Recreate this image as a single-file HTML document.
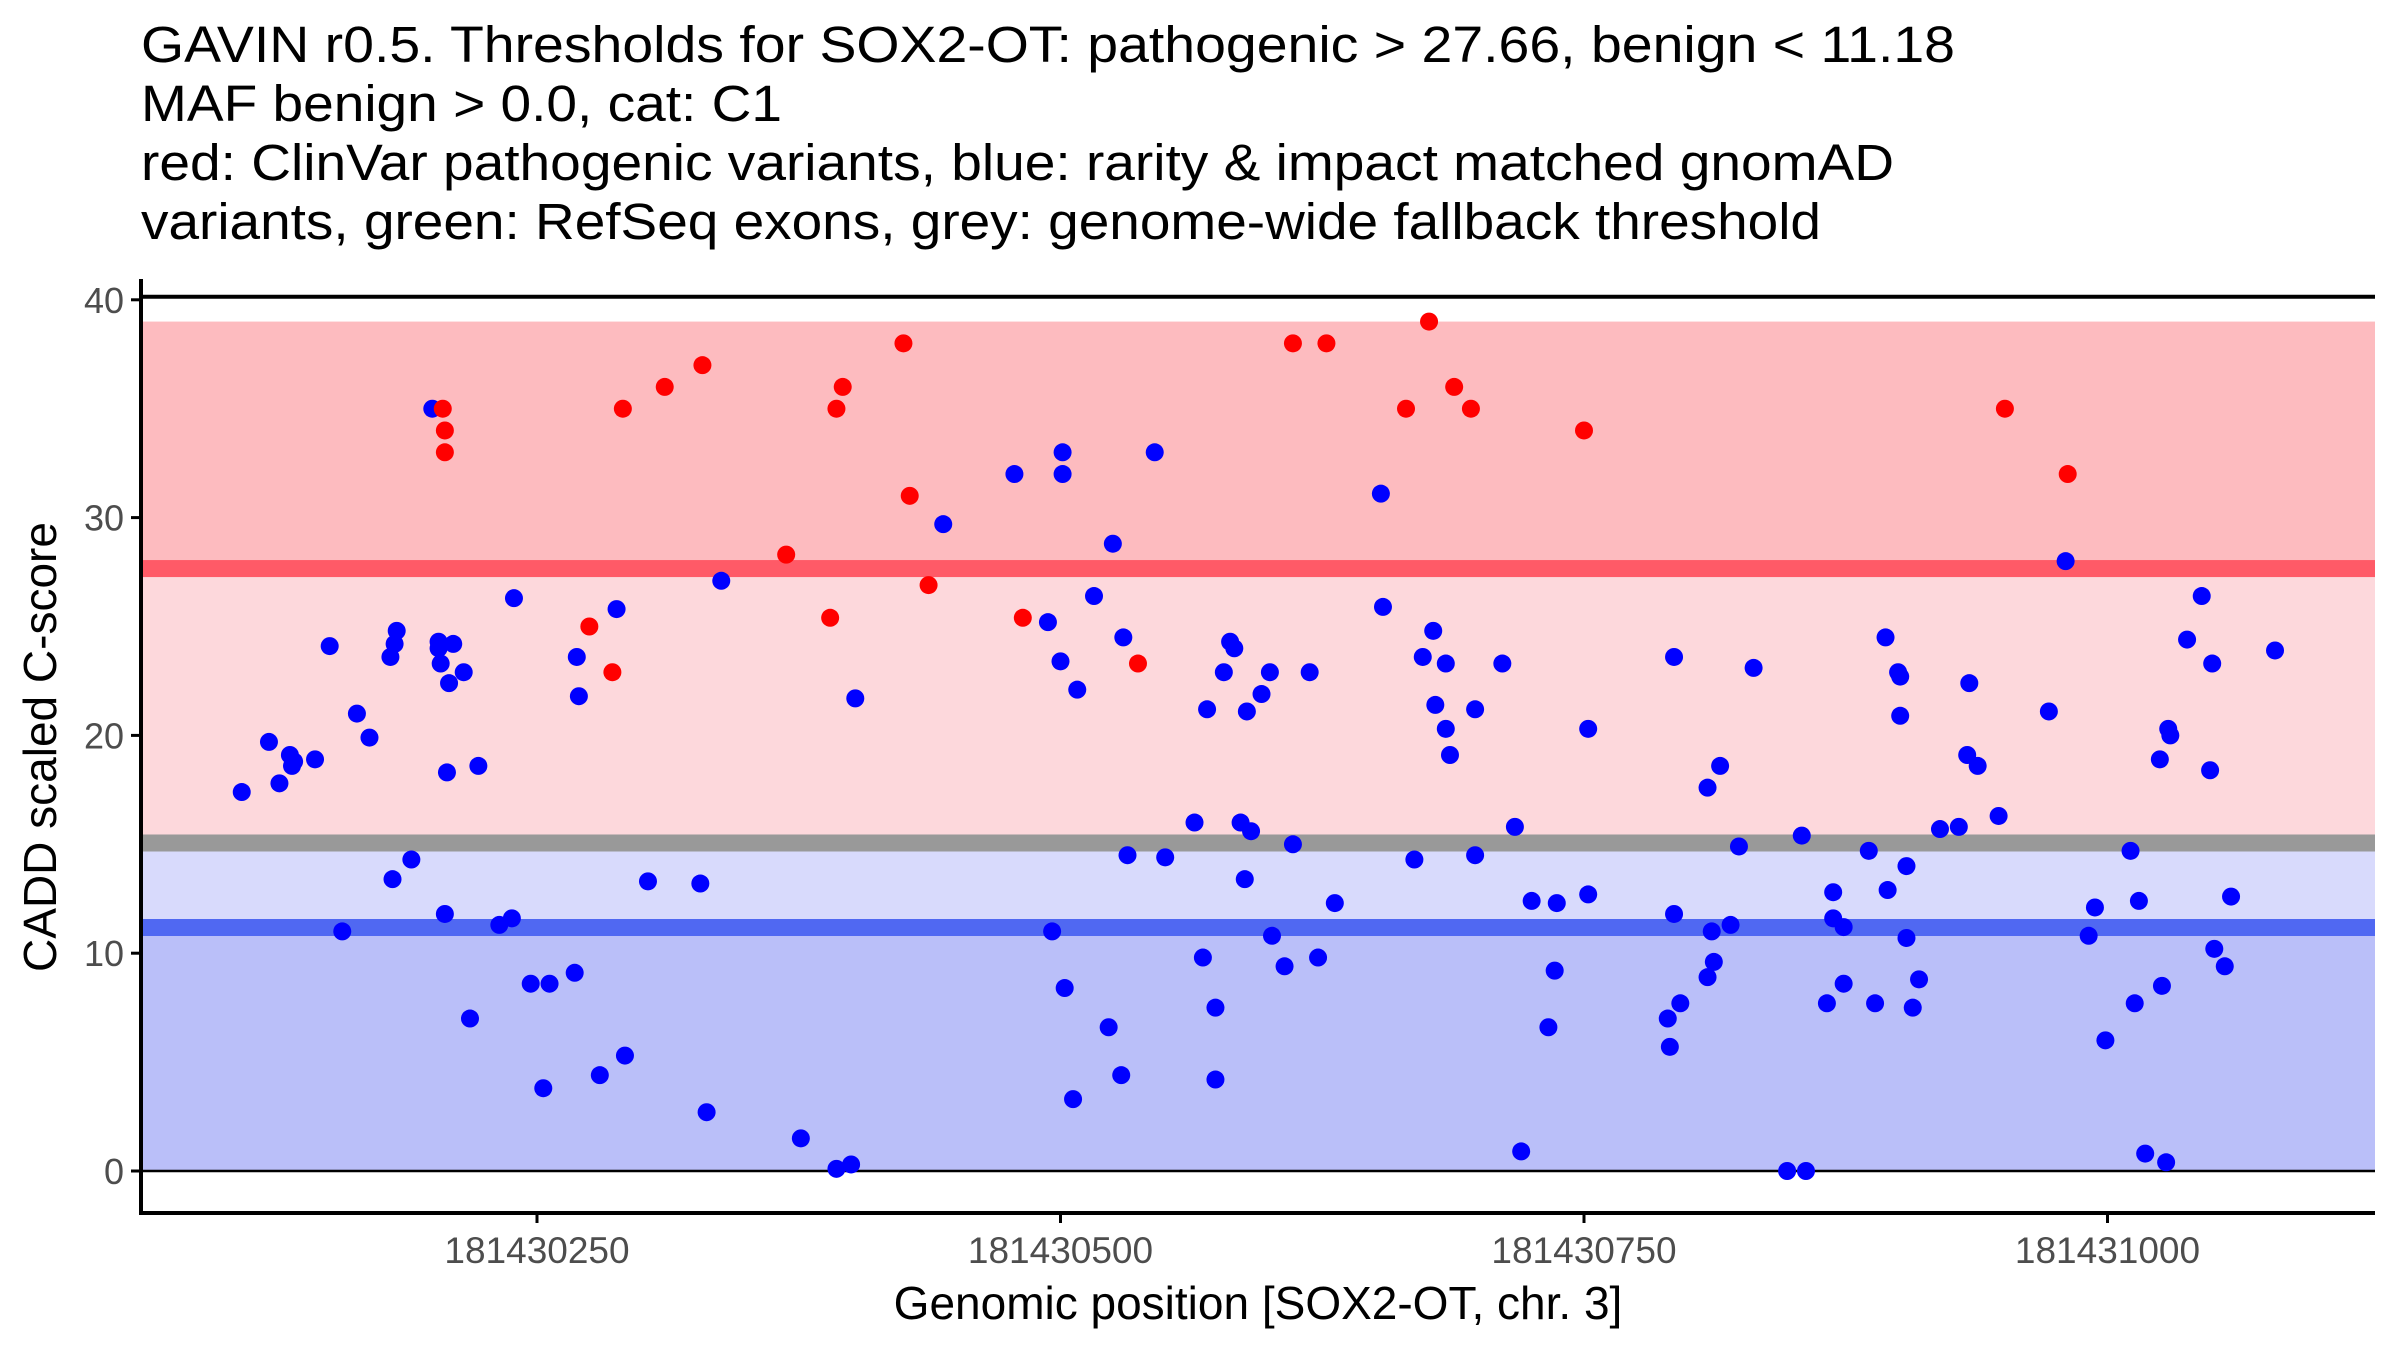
<!DOCTYPE html>
<html><head><meta charset="utf-8"><style>
html,body{margin:0;padding:0;background:#fff;}
svg{display:block;font-family:"Liberation Sans",Arial,sans-serif;}
</style></head><body>
<svg id="chart" width="2400" height="1350" viewBox="0 0 2400 1350" xmlns="http://www.w3.org/2000/svg">
<g font-size="48" fill="#000">
<text x="141" y="62" textLength="1814" lengthAdjust="spacingAndGlyphs" font-size="51">GAVIN r0.5. Thresholds for SOX2-OT: pathogenic &gt; 27.66, benign &lt; 11.18</text>
<text x="141" y="121" textLength="641" lengthAdjust="spacingAndGlyphs" font-size="51">MAF benign &gt; 0.0, cat: C1</text>
<text x="141" y="180" textLength="1753" lengthAdjust="spacingAndGlyphs" font-size="51">red: ClinVar pathogenic variants, blue: rarity &amp; impact matched gnomAD</text>
<text x="141" y="239" textLength="1680" lengthAdjust="spacingAndGlyphs" font-size="51">variants, green: RefSeq exons, grey: genome-wide fallback threshold</text>
</g>
<g id="bands"></g>
<g id="axes"></g>
<g id="points"></g>
<text x="1258" y="1319" font-size="46" text-anchor="middle">Genomic position [SOX2-OT, chr. 3]</text>
<text transform="translate(56,747) rotate(-90)" font-size="46" text-anchor="middle">CADD scaled C-score</text>
</svg>
<script>
const BASE = 181430000;
const xTicks = [250, 500, 750, 1000];
const yTicks = [0, 10, 20, 30, 40];
const pathoThreshold = 27.66;
const benignThreshold = 11.18;
const fallbackThreshold = 15.06;
const maxScore = 39;
const benignPos = [109,122,127,132,133,134,144,151,157,164,170,180,181,182,183,190,200,203,203,204,206,207,208,210,215,218,222,232,238,239,247,253,256,268,269,270,280,288,292,303,328,331,338,376,393,400,402,444,478,494,496,500,501,501,502,506,508,516,523,525,529,530,532,545,550,564,568,570,574,574,578,581,583,586,588,589,591,596,600,601,607,611,619,623,631,653,654,669,673,678,679,684,684,686,698,698,711,717,720,725,733,736,737,752,752,790,791,793,793,796,809,811,812,809,815,820,824,831,847,854,856,866,869,869,874,874,886,889,895,894,900,901,901,904,904,907,910,920,929,933,934,938,948,972,980,991,994,999,1011,1013,1015,1018,1025,1026,1028,1029,1030,1038,1045,1050,1049,1051,1056,1059,1080];
const benignScore = [17.4,19.7,17.8,19.1,18.6,18.8,18.9,24.1,11.0,21.0,19.9,23.6,13.4,24.2,24.8,14.3,35.0,24.0,24.3,23.3,11.8,18.3,22.4,24.2,22.9,7.0,18.6,11.3,11.6,26.3,8.6,3.8,8.6,9.1,23.6,21.8,4.4,25.8,5.3,13.3,13.2,2.7,27.1,1.5,0.1,0.3,21.7,29.7,32.0,25.2,11.0,23.4,33.0,32.0,8.4,3.3,22.1,26.4,6.6,28.8,4.4,24.5,14.5,33.0,14.4,16.0,9.8,21.2,7.5,4.2,22.9,24.3,24.0,16.0,13.4,21.1,15.6,21.9,22.9,10.8,9.4,15.0,22.9,9.8,12.3,31.1,25.9,14.3,23.6,24.8,21.4,20.3,23.3,19.1,14.5,21.2,23.3,15.8,0.9,12.4,6.6,9.2,12.3,12.7,20.3,7.0,5.7,23.6,11.8,7.7,8.9,11.0,9.6,17.6,18.6,11.3,14.9,23.1,0.0,15.4,0.0,7.7,12.8,11.6,11.2,8.6,14.7,7.7,12.9,24.5,22.9,20.9,22.7,14.0,10.7,7.5,8.8,15.7,15.8,19.1,22.4,18.6,16.3,21.1,28.0,10.8,12.1,6.0,14.7,7.7,12.4,0.8,18.9,8.5,0.4,20.3,20.0,24.4,26.4,23.3,18.4,10.2,9.4,12.6,23.9];
const pathoPos = [205,206,206,275,286,291,311,329,369,390,393,396,425,428,437,482,537,611,627,665,676,688,696,750,951,981];
const pathoScore = [35,34,33,25.0,22.9,35,36,37,28.3,25.4,35,36,38,31,26.9,25.4,23.3,38,38,35,39,36,35,34,35,32];

const NS = 'http://www.w3.org/2000/svg';
const L = 141, R = 2375, XA = 1213;
function xS(p){ return 537 + (p - 250) * 2.094; }
function yS(v){ return 1171 - v * 21.78; }
function mk(tag, attrs, parent){
  const e = document.createElementNS(NS, tag);
  for (const k in attrs) e.setAttribute(k, attrs[k]);
  parent.appendChild(e); return e;
}
const bands = document.getElementById('bands');
let r;
r = mk('rect', {x:L, y:yS(maxScore), width:R-L, height:yS(pathoThreshold)-yS(maxScore), fill:'#fdbbbf'}, bands);


r = mk('rect', {x:L, y:yS(pathoThreshold), width:R-L, height:yS(fallbackThreshold)-yS(pathoThreshold), fill:'#fdd8dc'}, bands);


r = mk('rect', {x:L, y:yS(fallbackThreshold), width:R-L, height:yS(benignThreshold)-yS(fallbackThreshold), fill:'#d8dafc'}, bands);


r = mk('rect', {x:L, y:yS(benignThreshold), width:R-L, height:yS(0)-yS(benignThreshold), fill:'#babff9'}, bands);


r = mk('rect', {x:L, y:yS(pathoThreshold)-8.5, width:R-L, height:17, fill:'#ff5a67'}, bands);


r = mk('rect', {x:L, y:yS(fallbackThreshold)-8.5, width:R-L, height:17, fill:'#999999'}, bands);


r = mk('rect', {x:L, y:yS(benignThreshold)-8.5, width:R-L, height:17, fill:'#5068f2'}, bands);



const axes = document.getElementById('axes');
let ln;
ln = mk('line', {x1:L, x2:R, y1:yS(0), y2:yS(0), stroke:'#000', 'stroke-width':2.5}, axes);


ln = mk('line', {x1:L, x2:R, y1:yS(40)-3, y2:yS(40)-3, stroke:'#000', 'stroke-width':4}, axes);


ln = mk('line', {x1:L, x2:L, y1:279, y2:XA+2, stroke:'#000', 'stroke-width':4}, axes);


ln = mk('line', {x1:L-2, x2:R, y1:XA, y2:XA, stroke:'#000', 'stroke-width':4}, axes);


yTicks.forEach(v => {
  const t = mk('line', {x1:L-10, x2:L, y1:yS(v), y2:yS(v), stroke:'#000', 'stroke-width':3}, axes);
  
  
  const tx = mk('text', {x:L-17, y:yS(v)+13, 'font-size':36, fill:'#4d4d4d', 'text-anchor':'end'}, axes);
  tx.textContent = v;
  
  
});
xTicks.forEach(p => {
  const t = mk('line', {x1:xS(p), x2:xS(p), y1:XA, y2:XA+10, stroke:'#000', 'stroke-width':3}, axes);
  
  
  const tx = mk('text', {x:xS(p), y:XA+50, 'font-size':37, fill:'#4d4d4d', 'text-anchor':'middle'}, axes);
  tx.textContent = BASE + p;
  
  
});

const pts = document.getElementById('points');
benignPos.forEach((p, i) => {
  const c = mk('circle', {cx:xS(p), cy:yS(benignScore[i]), r:9, fill:'#0000ff'}, pts);
  
  
});
pathoPos.forEach((p, i) => {
  const c = mk('circle', {cx:xS(p), cy:yS(pathoScore[i]), r:9, fill:'#ff0000'}, pts);
  
  
});
</script>
</body></html>
